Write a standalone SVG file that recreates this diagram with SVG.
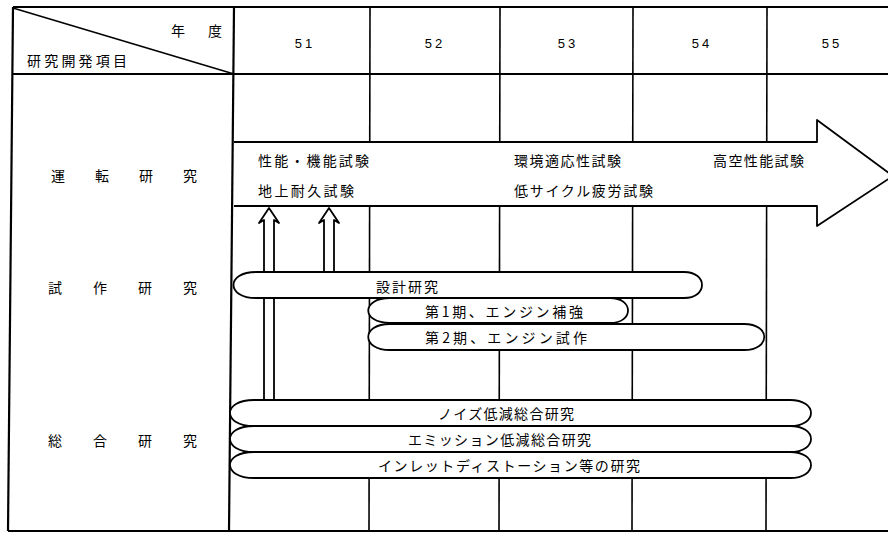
<svg xmlns="http://www.w3.org/2000/svg" width="888" height="534" viewBox="0 0 888 534">
<style>
.ln{stroke:#000;stroke-width:1.6;fill:none}
.bd{stroke:#000;stroke-width:2.2;fill:none}
.sh{stroke:#000;stroke-width:1.8;fill:#fff;stroke-linejoin:round}
text{font-family:"Noto Sans CJK JP","Noto Sans",sans-serif;fill:#000;font-size:14px}
.num{font-family:"Liberation Sans",sans-serif;font-size:13px;letter-spacing:3px}
.c{text-anchor:middle;dominant-baseline:central}
.l{dominant-baseline:central}
</style>
<rect width="888" height="534" fill="#fff"/>
<g id="grid">
<line class="bd" x1="13" y1="7" x2="888" y2="7"/>
<line class="bd" x1="13" y1="74" x2="888" y2="74"/>
<line class="bd" x1="8" y1="531" x2="888" y2="531"/>
<line class="bd" x1="13" y1="7" x2="8" y2="531"/>
<line class="bd" x1="234" y1="7" x2="229" y2="531"/>
<line class="ln" x1="13" y1="8" x2="234" y2="74"/>
<line class="ln" x1="370" y1="7" x2="369" y2="531"/>
<line class="ln" x1="500" y1="7" x2="499" y2="531"/>
<line class="ln" x1="633" y1="7" x2="632" y2="531"/>
<line class="ln" x1="767" y1="7" x2="766" y2="531"/>
</g>
<g id="header">
<text x="171" y="30" class="l" textLength="51" lengthAdjust="spacing">年度</text>
<text x="27" y="60" class="l" textLength="100" lengthAdjust="spacing">研究開発項目</text>
<text x="305" y="43" class="c num">51</text>
<text x="435" y="43" class="c num">52</text>
<text x="568" y="43" class="c num">53</text>
<text x="702" y="43" class="c num">54</text>
<text x="832" y="43" class="c num">55</text>
</g>
<g id="row-labels">
<text x="51" y="175" class="l" textLength="146" lengthAdjust="spacing">運転研究</text>
<text x="48" y="287" class="l" textLength="149" lengthAdjust="spacing">試作研究</text>
<text x="48" y="440" class="l" textLength="149" lengthAdjust="spacing">総合研究</text>
</g>
<g id="connectors">
<path class="sh" d="M234,142 H817 V120 L893,176 L817,226 V206 H234"/>
<path class="sh" d="M264,400 V220 L259,223 L269,208 L279,223 L274,220 V400"/>
<path class="sh" d="M324,272 V220 L319,223 L329,208 L339,223 L334,220 V272"/>
</g>
<g id="unten">
<text x="258" y="160" class="l" textLength="111" lengthAdjust="spacing">性能・機能試験</text>
<text x="258" y="190" class="l" textLength="96" lengthAdjust="spacing">地上耐久試験</text>
<text x="514" y="160" class="l" textLength="107" lengthAdjust="spacing">環境適応性試験</text>
<text x="514" y="190" class="l" textLength="139" lengthAdjust="spacing">低サイクル疲労試験</text>
<text x="713" y="160" class="l" textLength="91" lengthAdjust="spacing">高空性能試験</text>
</g>
<g id="bar-sekkei">
<path class="sh" d="M256,272 H684 C708,272 708,298 684,298 H256 C226,298 226,272 256,272 Z"/>
<text x="376" y="286" class="l" textLength="62" lengthAdjust="spacing">設計研究</text>
</g>
<g id="bar-dai1">
<path class="sh" d="M390,298 H610 C634,298 634,323 610,323 H390 C361,323 361,298 390,298 Z"/>
<text x="425" y="311" class="l" textLength="158" lengthAdjust="spacing">第1期、エンジン補強</text>
</g>
<g id="bar-dai2">
<path class="sh" d="M390,324 H744 C771,324 771,350 744,350 H390 C361,350 361,324 390,324 Z"/>
<text x="425" y="337" class="l" textLength="162" lengthAdjust="spacing">第2期、エンジン試作</text>
</g>
<g id="bar-noise">
<path class="sh" d="M254,400 H790 C818,400 818,426 790,426 H254 C222,426 222,400 254,400 Z"/>
<text x="438" y="413" class="l" textLength="136" lengthAdjust="spacing">ノイズ低減総合研究</text>
</g>
<g id="bar-emission">
<path class="sh" d="M254,426 H790 C818,426 818,452 790,452 H254 C222,452 222,426 254,426 Z"/>
<text x="408" y="439" class="l" textLength="183" lengthAdjust="spacing">エミッション低減総合研究</text>
</g>
<g id="bar-inlet">
<path class="sh" d="M254,452 H790 C818,452 818,478 790,478 H254 C222,478 222,452 254,452 Z"/>
<text x="378" y="465" class="l" textLength="262" lengthAdjust="spacing">インレットディストーション等の研究</text>
</g>
</svg>
